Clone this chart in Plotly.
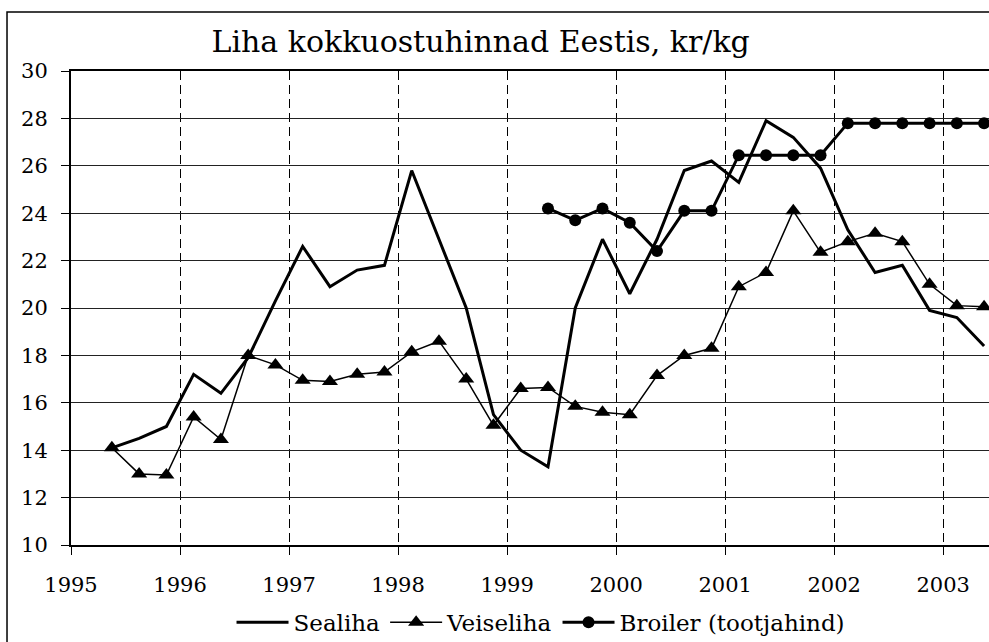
import plotly.graph_objects as go

# Quarterly observations (mid-quarter positions), 1995 Q2 .. 2003 Q2
years = [1995, 1996, 1997, 1998, 1999, 2000, 2001, 2002, 2003]
quarters = [(y, q) for y in range(1995, 2004) for q in range(1, 5)]
quarters = [yq for yq in quarters if (1995, 2) <= yq <= (2003, 2)]
x_q = [y + (q - 0.5) / 4 for y, q in quarters]

sealiha = [14.1, 14.5, 15.0, 17.2, 16.4, 17.9, 20.3, 22.6, 20.9, 21.6, 21.8,
           25.8, 22.9, 20.0, 15.5, 14.0, 13.3, 20.0, 22.9, 20.6, 22.9, 25.8,
           26.2, 25.3, 27.9, 27.2, 25.9, 23.3, 21.5, 21.8, 19.9, 19.6, 18.4]

veiseliha = [14.1, 13.0, 12.95, 15.4, 14.45, 18.0, 17.6, 16.95, 16.9, 17.2, 17.3,
             18.15, 18.6, 17.0, 15.05, 16.6, 16.65, 15.85, 15.6, 15.5, 17.15, 18.0,
             18.3, 20.9, 21.5, 24.1, 22.35, 22.8, 23.15, 22.8, 21.0, 20.1, 20.05]

broiler = [None] * 16 + [24.2, 23.7, 24.2, 23.6, 22.4, 24.1, 24.1, 26.45, 26.45,
                         26.45, 26.45, 27.8, 27.8, 27.8, 27.8, 27.8, 27.8]

y_ticks = [10, 12, 14, 16, 18, 20, 22, 24, 26, 28, 30]

FONT = "DejaVu Serif"

fig = go.Figure()
fig.add_trace(go.Scatter(x=x_q, y=sealiha, name="Sealiha", mode="lines",
                         line=dict(color="black", width=3)))
fig.add_trace(go.Scatter(x=x_q, y=veiseliha, name="Veiseliha", mode="lines+markers",
                         line=dict(color="black", width=1.5),
                         marker=dict(symbol="triangle-up", size=14, color="black")))
fig.add_trace(go.Scatter(x=x_q, y=broiler, name="Broiler (tootjahind)", mode="lines+markers",
                         line=dict(color="black", width=3),
                         marker=dict(symbol="circle", size=12, color="black")))

# outer chart border (left & top visible)
fig.add_shape(type="rect", xref="paper", yref="paper",
              x0=-0.0697, x1=1.02, y0=-0.25, y1=1.1245,
              line=dict(color="black", width=1.5), fillcolor="rgba(0,0,0,0)", layer="below")

fig.update_layout(
    width=989, height=642,
    margin=dict(l=71, r=0, t=71, b=97, autoexpand=False),
    paper_bgcolor="white", plot_bgcolor="white",
    font=dict(family=FONT, size=21, color="black"),
    title=dict(text="Liha kokkuostuhinnad Eestis, kr/kg", x=0.486, xanchor="center",
               xref="container", y=0.936, yanchor="middle", yref="container",
               font=dict(family=FONT, size=30, color="black")),
    showlegend=True,
    legend=dict(orientation="h", x=0.512, xanchor="center", y=-0.163, yanchor="middle",
                font=dict(family=FONT, size=23, color="black"),
                itemwidth=52, bgcolor="rgba(0,0,0,0)", tracegroupgap=0),
    xaxis=dict(range=[1995, 2003.42], tickmode="array", tickvals=years,
               ticktext=[str(y) for y in years], automargin=False,
               showgrid=True, gridcolor="black", gridwidth=1, griddash="9px,5px",
               showline=True, linecolor="black", linewidth=2, mirror=True,
               ticks="outside", ticklen=8, tickcolor="black", tickwidth=1,
               ticklabelstandoff=12, zeroline=False,
               tickfont=dict(family=FONT, size=21, color="black")),
    yaxis=dict(range=[10, 30], tickmode="array", tickvals=y_ticks, automargin=False,
               showgrid=True, gridcolor="#222", gridwidth=1,
               showline=True, linecolor="black", linewidth=2,
               ticks="outside", ticklen=8, tickcolor="black", tickwidth=1,
               ticklabelstandoff=9, zeroline=False,
               tickfont=dict(family=FONT, size=21, color="black")),
)

fig.write_html("out.html", config={"displayModeBar": False},
               post_script="document.body.style.margin='0';")
